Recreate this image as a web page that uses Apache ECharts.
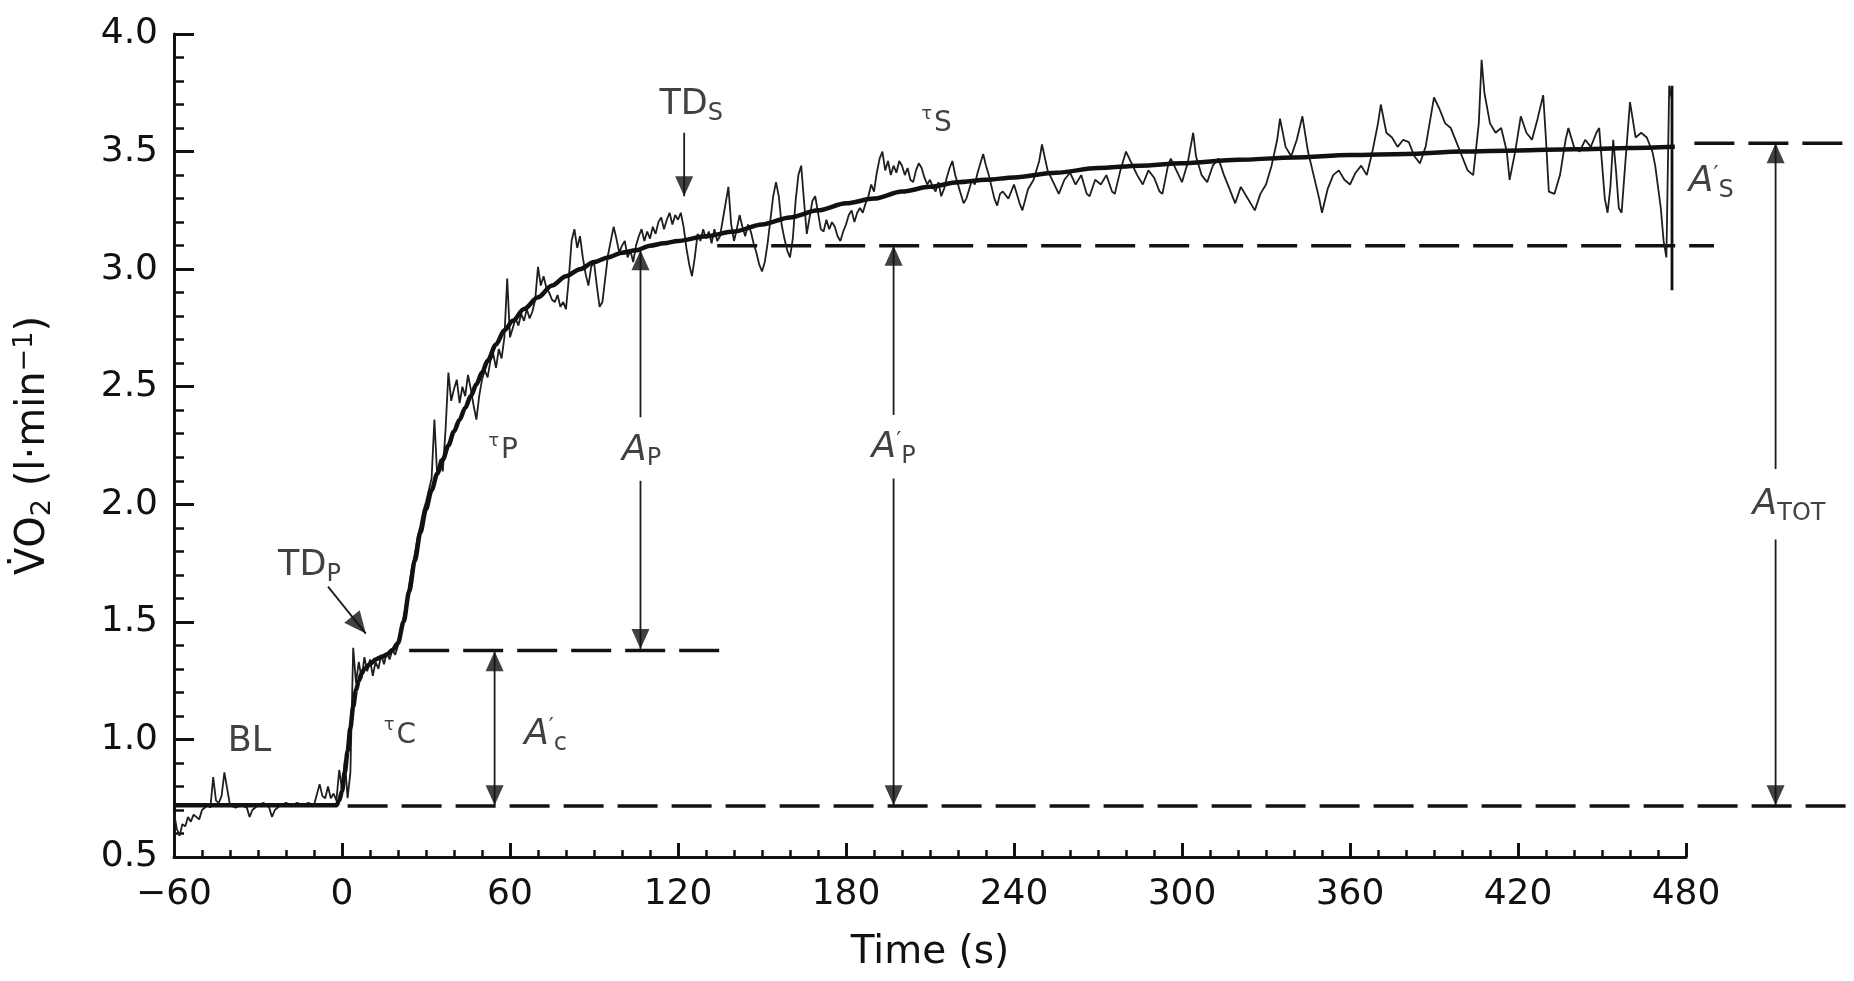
<!DOCTYPE html>
<html><head><meta charset="utf-8">
<script src="https://cdn.jsdelivr.net/npm/echarts@6.0.0/dist/echarts.min.js"></script>
<style>html,body{margin:0;padding:0;background:#fff}#c{width:1854px;height:981px}</style>
</head><body><div id="c"></div>
<script>
// ---- axis ticks ----
const xTickLabels = [-60, 0, 60, 120, 180, 240, 300, 360, 420, 480];
const yTickLabels = [0.5, 1.0, 1.5, 2.0, 2.5, 3.0, 3.5, 4.0];
// annotation space continues to the right of the plotted time range
const annotationTimeMax = 540;

// ---- breath-by-breath VO2 trace [time s, VO2 l/min] ----
const rawTrace = [
[-60,0.69],[-59,0.62],[-58,0.59],[-57,0.64],[-56,0.63],[-55,0.67],[-54,0.65],[-53,0.68],[-51,0.66],[-50,0.70],[-48,0.72],[-47,0.71],[-46,0.84],[-45,0.74],[-44,0.73],[-43,0.76],[-42,0.86],[-41,0.79],[-40,0.72],[-38,0.71],[-36,0.72],[-34,0.71],[-33,0.67],[-32,0.70],[-30,0.72],[-28,0.73],[-26,0.71],[-25,0.67],[-24,0.70],[-22,0.72],[-20,0.73],[-18,0.72],[-16,0.73],[-14,0.72],[-12,0.73],[-10,0.72],[-8,0.81],[-7,0.76],[-6,0.75],[-5,0.80],[-4,0.75],[-3,0.77],[-2,0.74],[-1,0.87],[0,0.79],[1,0.91],[2,0.75],[3,0.86],[4,1.39],[5,1.24],[6,1.33],[7,1.26],[8,1.35],[9,1.29],[10,1.34],[11,1.27],[12,1.33],[13,1.30],[14,1.36],[15,1.32],[16,1.37],[17,1.34],[18,1.38],[19,1.36],[20,1.40],
[21,1.45],[22,1.52],[23,1.58],[24,1.66],[25,1.73],[26,1.79],[27,1.86],[28,1.91],[29,1.97],[30,2.01],[31,2.06],[32,2.11],[33,2.36],[34,2.12],[35,2.19],[36,2.14],[37,2.32],[38,2.56],[39,2.44],[40,2.49],[41,2.53],[42,2.43],[43,2.50],[44,2.46],[45,2.55],[46,2.49],[47,2.42],[48,2.36],[49,2.46],[50,2.53],[51,2.57],[52,2.54],[53,2.61],[54,2.64],[55,2.58],[56,2.66],[57,2.62],[58,2.71],[59,2.96],[60,2.71],[61,2.75],[62,2.79],[63,2.76],[64,2.81],[65,2.78],[66,2.83],[67,2.79],[68,2.82],[69,2.87],[70,3.01],[71,2.93],[72,2.97],[73,2.92],[74,2.90],[75,2.87],[76,2.86],[77,2.89],[78,2.84],[79,2.86],[80,2.83],[81,2.96],[82,3.12],[83,3.17],[84,3.09],[85,3.14],[86,3.05],[87,2.98],[88,2.93],[89,3.01],[90,3.03],[91,2.93],[92,2.84],[93,2.86],[94,2.96],[95,3.06],[96,3.12],[97,3.18],[98,3.13],[99,3.07],[100,3.10],
[101,3.12],[102,3.05],[103,3.08],[104,3.03],[105,3.10],[106,3.14],[107,3.17],[108,3.12],[109,3.16],[110,3.13],[111,3.18],[112,3.15],[113,3.20],[114,3.22],[115,3.17],[116,3.21],[117,3.24],[118,3.19],[119,3.23],[120,3.21],[121,3.24],[122,3.18],[123,3.09],[124,3.02],[125,2.97],[126,3.05],[127,3.15],[128,3.12],[129,3.17],[130,3.13],[131,3.16],[132,3.11],[133,3.17],[134,3.12],[135,3.14],[136,3.21],[137,3.28],[138,3.35],[139,3.19],[140,3.12],[141,3.17],[142,3.23],[143,3.18],[144,3.14],[145,3.19],[146,3.16],[147,3.11],[148,3.07],[149,3.02],[150,2.99],[151,3.03],[152,3.11],[153,3.21],[154,3.31],[155,3.37],[156,3.31],[157,3.19],[158,3.13],[159,3.08],[160,3.05],[161,3.13],[162,3.29],[163,3.40],[164,3.44],[165,3.29],[166,3.15],[167,3.22],[168,3.29],[169,3.31],[170,3.24],[171,3.17],[172,3.16],[173,3.21],[174,3.17],[175,3.20],[176,3.18],[177,3.14],[178,3.12],[179,3.16],[180,3.19],[181,3.23],[182,3.25],[183,3.20],[184,3.24],[185,3.26],[186,3.24],[187,3.28],[188,3.31],[189,3.36],[190,3.33],[191,3.41],[192,3.47],[193,3.50],[194,3.42],[195,3.46],[196,3.40],[197,3.44],[198,3.41],[199,3.46],[200,3.44],[201,3.40],[202,3.43],[203,3.38],[204,3.37],[205,3.42],[206,3.45],[207,3.43],[208,3.39],[209,3.36],[210,3.38],[211,3.35],[212,3.33],[213,3.37],[214,3.31],[215,3.34],[216,3.39],[217,3.43],[218,3.46],[219,3.40],[220,3.36],[221,3.32],[222,3.28],[223,3.30],[224,3.34],[225,3.38],[226,3.36],[227,3.41],[228,3.45],[229,3.49],[230,3.44],[231,3.40],[232,3.35],[233,3.30],[234,3.27],[235,3.32],
[236,3.33],[238,3.30],[240,3.36],[242,3.28],[243,3.25],[245,3.34],[247,3.38],[249,3.46],[250,3.53],[252,3.42],[254,3.37],[256,3.32],[258,3.38],[260,3.41],[262,3.36],[264,3.40],[266,3.32],[267,3.31],[269,3.38],[271,3.36],[273,3.40],[275,3.33],[276,3.32],[278,3.42],[280,3.50],[282,3.45],[284,3.40],[286,3.36],[288,3.42],[290,3.39],[292,3.33],[293,3.32],[295,3.44],[296,3.47],[298,3.42],[300,3.37],[302,3.45],[304,3.58],[305,3.48],[307,3.40],[309,3.37],[311,3.44],[313,3.47],[315,3.40],[317,3.34],[319,3.28],[321,3.35],[323,3.31],[325,3.27],[326,3.25],[328,3.32],[330,3.36],[332,3.44],[334,3.55],[335,3.64],[337,3.52],[339,3.48],[341,3.55],[343,3.65],[345,3.50],[347,3.40],[349,3.30],[350,3.24],[352,3.34],[354,3.40],[356,3.42],[358,3.38],[360,3.36],[362,3.41],[364,3.44],[366,3.40],[368,3.50],[370,3.62],[371,3.70],[373,3.58],[375,3.56],[377,3.52],[379,3.55],[381,3.54],[383,3.48],[385,3.45],[387,3.52],[389,3.66],[390,3.73],[392,3.68],[394,3.62],[396,3.60],[398,3.54],[400,3.48],[402,3.42],[404,3.40],[406,3.62],[407,3.89],[408,3.75],[410,3.62],[412,3.58],[414,3.60],[416,3.50],[417,3.38],[419,3.50],[421,3.65],[423,3.58],[425,3.55],[427,3.64],[429,3.74],[430,3.55],[431,3.33],[433,3.32],[435,3.40],[437,3.55],[438,3.60],[440,3.52],[442,3.50],[444,3.55],[446,3.52],[448,3.58],[449,3.60],[450,3.45],[451,3.30],[452,3.24],[453,3.35],[454,3.55],[455,3.42],[456,3.26],[457,3.24],[458,3.40],[460,3.71],[462,3.56],[464,3.58],[466,3.56],[468,3.50],[469,3.44],[470,3.35],[471,3.26],[472,3.12],[473,3.05],[474,3.78],[475,3.72]
];

// ---- model fit [time s, VO2 l/min] ----
const fitCurve = [
[-60,0.72],[-2,0.72],[-1,0.74],[0,0.78],[1,0.86],[2,0.95],[3,1.05],[4,1.14],[5,1.21],[6,1.25],[7,1.28],[8,1.30],[10,1.32],[12,1.34],[14,1.35],[16,1.36],[18,1.38],[20,1.41],[22,1.50],[24,1.63],[26,1.76],[28,1.88],[30,1.98],[32,2.06],[34,2.13],[36,2.19],[38,2.25],[40,2.31],[42,2.36],[44,2.41],[46,2.46],[48,2.51],[50,2.56],[52,2.61],[55,2.68],[58,2.74],[61,2.78],[65,2.83],[70,2.88],[75,2.93],[80,2.97],[85,3.00],[90,3.03],[95,3.05],[100,3.07],[105,3.08],[110,3.10],[115,3.11],[120,3.12],[130,3.14],[140,3.16],[150,3.19],[160,3.22],[170,3.25],[180,3.28],[190,3.30],[200,3.33],[210,3.35],[220,3.37],[230,3.38],[240,3.39],[255,3.41],[270,3.43],[285,3.44],[300,3.45],[320,3.465],[340,3.475],[360,3.485],[380,3.49],[400,3.50],[420,3.505],[440,3.51],[460,3.515],[476,3.52]
];

// ---- reference levels (dashed) : [level, from t, to t] ----
const dashedLevels = [
[0.717, 2, 540],
[1.378, 24, 136],
[3.10, 134, 490],
[3.535, 483, 540]
];

// ---- arrow shafts : [t1, v1, t2, v2] ----
const arrowShafts = [
[54.5, 0.72, 54.5, 1.375],
[106.6, 3.08, 106.6, 2.37],
[106.6, 2.10, 106.6, 1.385],
[197, 3.10, 197, 2.38],
[197, 2.11, 197, 0.72],
[512, 3.535, 512, 2.15],
[512, 1.85, 512, 0.72],
[122.2, 3.58, 122.2, 3.31],
[-5, 1.65, 8.5, 1.45]
];
const endBar = [[475, 2.91], [475, 3.78]];
const arrowUp = [[54.5, 1.375], [106.6, 3.08], [197, 3.10], [512, 3.535]];
const arrowDown = [[54.5, 0.72], [106.6, 1.385], [197, 0.72], [512, 0.72], [122.2, 3.31]];
const arrowDiag = [[8.5, 1.45]];

// ---- annotation labels : [t, v, rich text] ----
const annotations = [
[-11.6, 1.74, '{r|TD}{s|P}'],
[-33, 0.99, '{r|BL}'],
[20.7, 1.03, '{t|τ}{u|C}'],
[72.7, 1.02, '{a|A}{pr|′}{s|c}'],
[57.5, 2.24, '{t|τ}{u|P}'],
[107, 2.23, '{a|A}{s|P}'],
[197, 2.24, '{a|A}{pr|′}{s|P}'],
[124.7, 3.70, '{r|TD}{s|S}'],
[212.3, 3.63, '{t|τ}{u|S}'],
[489, 3.37, '{a|A}{pr|′}{s|S}'],
[516.8, 2.00, '{a|A}{s|TOT}']
];

const INK = '#111111';
const chart = echarts.init(document.getElementById('c'), null, {renderer: 'canvas'});

const richStyles = {
  r: {fontFamily: 'DejaVu Sans', fontSize: 35, color: INK},
  s: {fontFamily: 'DejaVu Sans', fontSize: 24, color: INK, padding: [18, 0, 0, 0]},
  a: {fontFamily: 'DejaVu Sans', fontStyle: 'italic', fontSize: 36, color: INK},
  pr: {fontFamily: 'DejaVu Sans', fontSize: 22, color: INK, padding: [0, 0, 14, 0]},
  t: {fontFamily: 'DejaVu Sans', fontSize: 18, color: INK, padding: [0, 2, 14, 0]},
  u: {fontFamily: 'DejaVu Sans', fontSize: 28, color: INK, padding: [6, 0, 0, 0]}
};

// grid 0 = plotted axes, grid 1 = same scale extended to the right edge for annotations
const onAnno = {xAxisIndex: 1, yAxisIndex: 1};
const series = [];
series.push({
  type: 'line', data: rawTrace, showSymbol: false, symbol: 'none', z: 3,
  lineStyle: {color: '#1e1e1e', width: 1.8}
});
series.push({
  type: 'line', data: fitCurve, showSymbol: false, symbol: 'none', z: 4,
  smooth: 0.3, smoothMonotone: 'x',
  lineStyle: {color: INK, width: 4.5}
});
dashedLevels.forEach(d => series.push(Object.assign({
  type: 'line', data: [[d[1], d[0]], [d[2], d[0]]], symbol: 'none', z: 2,
  lineStyle: {color: INK, width: 3.5, type: [40, 14]}
}, onAnno)));
arrowShafts.forEach(a => series.push(Object.assign({
  type: 'line', data: [[a[0], a[1]], [a[2], a[3]]], symbol: 'none', z: 5,
  lineStyle: {color: '#1c1c1c', width: 1.8}
}, onAnno)));
series.push(Object.assign({
  type: 'line', data: endBar, symbol: 'none', z: 5,
  lineStyle: {color: INK, width: 2.8}
}, onAnno));
series.push(Object.assign({
  type: 'scatter', data: arrowUp, symbol: 'triangle', symbolSize: [18, 20],
  symbolOffset: [0, 10], z: 6, itemStyle: {color: INK}
}, onAnno));
series.push(Object.assign({
  type: 'scatter', data: arrowDown, symbol: 'triangle', symbolSize: [18, 20], symbolRotate: 180,
  symbolOffset: [0, -10], z: 6, itemStyle: {color: INK}
}, onAnno));
series.push(Object.assign({
  type: 'scatter', data: arrowDiag, symbol: 'triangle', symbolSize: [20, 22], symbolRotate: -141,
  symbolOffset: [-6.9, -8.6], z: 6, itemStyle: {color: INK}
}, onAnno));
series.push(Object.assign({
  type: 'scatter', data: annotations.map(a => [a[0], a[1], a[2]]), symbolSize: 1, z: 7,
  itemStyle: {color: 'rgba(0,0,0,0)'},
  label: {
    show: true, position: 'inside', align: 'center', verticalAlign: 'middle',
    formatter: p => p.data[2], rich: richStyles
  }
}, onAnno));

const axisText = {fontFamily: 'DejaVu Sans', fontSize: 36, color: INK};
const yMin = yTickLabels[0], yMax = yTickLabels[yTickLabels.length - 1];
const xMin = xTickLabels[0], xMax = xTickLabels[xTickLabels.length - 1];

chart.setOption({
  animation: false,
  backgroundColor: '#ffffff',
  grid: [
    {left: 174, right: 168, top: 34, bottom: 124, containLabel: false},
    {left: 174, right: 0, top: 34, bottom: 124, containLabel: false}
  ],
  xAxis: [{
    type: 'value', gridIndex: 0, min: xMin, max: xMax, interval: 60,
    name: 'Time (s)', nameLocation: 'middle', nameGap: 76,
    nameTextStyle: {fontFamily: 'DejaVu Sans', fontSize: 39, color: INK},
    axisLine: {show: true, onZero: false, lineStyle: {color: INK, width: 3}},
    axisTick: {show: true, inside: true, length: 14, lineStyle: {color: INK, width: 3}},
    minorTick: {show: true, splitNumber: 6, length: 7, lineStyle: {color: INK, width: 2.5}},
    splitLine: {show: false}, minorSplitLine: {show: false},
    axisLabel: Object.assign({margin: 20, formatter: v => (v < 0 ? '\u2212' + Math.abs(v) : String(v))}, axisText)
  }, {
    type: 'value', gridIndex: 1, min: xMin, max: annotationTimeMax, show: false
  }],
  yAxis: [{
    type: 'value', gridIndex: 0, min: yMin, max: yMax, interval: 0.5,
    name: '{v|V\u0307O}{sb|2}{v| (l\u00b7min}{sp|\u22121}{v|)}', nameLocation: 'middle', nameRotate: 90, nameGap: 118,
    nameTextStyle: {
      rich: {
        v: {fontFamily: 'DejaVu Sans', fontSize: 40, color: INK},
        sb: {fontFamily: 'DejaVu Sans', fontSize: 27, color: INK, padding: [18, 0, 0, 0]},
        sp: {fontFamily: 'DejaVu Sans', fontSize: 27, color: INK, padding: [0, 0, 18, 0]}
      }
    },
    axisLine: {show: true, onZero: false, lineStyle: {color: INK, width: 3}},
    axisTick: {show: true, inside: true, length: 20, lineStyle: {color: INK, width: 3}},
    minorTick: {show: true, splitNumber: 5, length: 10, lineStyle: {color: INK, width: 2.5}},
    splitLine: {show: false}, minorSplitLine: {show: false},
    axisLabel: Object.assign({margin: 16, formatter: v => v.toFixed(1)}, axisText)
  }, {
    type: 'value', gridIndex: 1, min: yMin, max: yMax, show: false
  }],
  series: series
});
</script>
</body></html>
